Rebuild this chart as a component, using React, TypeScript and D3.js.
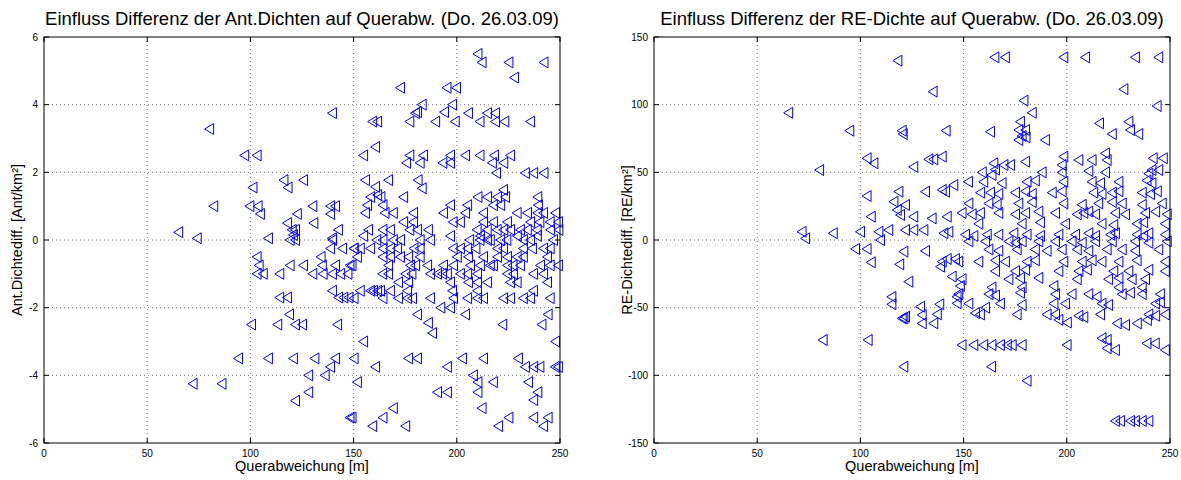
import React from 'react';
import * as d3 from 'd3';

const xTicks = [0, 50, 100, 150, 200, 250];
const antYTicks = [-6, -4, -2, 0, 2, 4, 6];
const reYTicks = [-150, -100, -50, 0, 50, 100, 150];

const antTitle = 'Einfluss Differenz der Ant.Dichten auf Querabw. (Do. 26.03.09)';
const reTitle = 'Einfluss Differenz der RE-Dichte auf Querabw. (Do. 26.03.09)';
const xLabel = 'Querabweichung [m]';
const antYLabel = 'Ant.Dichtediff. [Ant/km²]';
const reYLabel = 'RE-Dichtediff. [RE/km²]';

const antPoints: [number, number][] = [
  [65,0.23],[74,0.05],[80,3.28],[82,1.0],[72,-4.25],[86,-4.25],[94,-3.5],[97,2.5],[103,2.5],[101,1.55],[99.5,1.0],[103.5,1.0],[104.6,0.77],
  [103,-0.5],[104,-0.75],[103,-1.0],[106,-1.0],[100.3,-2.5],[108.5,-3.5],[108.5,0.05],[114,-1.0],[113,-2.5],[114,-1.7],[117.7,-1.7],
  [118.7,-2.2],[121.6,-2.5],[125,-2.5],[119,-0.75],[125.5,-0.75],[130,-1.0],[120.6,-3.5],[131,-3.5],[141,-3.5],[150,-3.5],[128,-4.0],
  [136,-4.0],[138.6,-3.75],[128,-4.5],[121.6,-4.75],[148,-5.25],[142,-2.5],[135,-1.0],[139.5,-1.0],[143.5,-1.0],[147,-1.0],[134,-0.5],
  [134.6,-0.75],[141,-0.75],[148,-0.75],[139.5,-1.5],[142.5,-1.7],[145,-1.7],[147.5,-1.7],[119,0],[121.6,0],[139.6,0],[138.6,-0.25],
  [144.4,-0.25],[150,-0.25],
  [139.5,3.75],[116,1.77],[125.5,1.77],[118,1.55],[130,1.0],[122.5,0.77],[138.6,1.0],[141,1.0],[138.6,0.77],[117.7,0.5],[120,0.3],
  [121.6,0.3],[120.6,0.15],[130.5,0.5],[142.4,0.3],[139.5,0.05],
  [210,5.5],[212,5.25],[225,5.25],[242,5.25],[227.7,4.8],[172.5,4.5],[195,4.5],[199.6,4.5],[183,4.0],[180.7,3.78],[179.7,3.75],
  [197.7,4.0],[193.8,3.78],[159,3.5],[161.4,3.5],[177,3.5],[189.5,3.5],[199,3.5],[205.4,3.75],[211,3.5],[214.6,3.75],[218.5,3.75],
  [218.5,3.5],[223,3.5],[235.5,3.5],
  [160.4,2.75],[154.6,2.5],[177,2.5],[183.6,2.5],[175.4,2.28],[182,2.28],[196.7,2.5],[193,2.28],[196.7,2.28],[204,2.5],[211,2.5],
  [218,2.5],[225.8,2.5],[217,2.28],[222.5,2.28],[219,1.98],[233,1.98],[237,1.98],[242,1.98],
  [155.5,1.77],[160.4,1.57],[161.4,1.33],[166.7,1.77],[181,1.77],[183,1.53],[174,1.27],[158,1.27],[163,1.27],[156.5,1.03],[164,1.03],
  [155.5,0.8],[165,0.8],[169,0.8],[178.8,0.8],[178.8,0.53],[174,0.53],[157,0.3],[164,0.3],[167.6,0.3],[177,0.3],[180.7,0.3],[186,0.3],
  [193.3,0.8],[196.7,1.03],[198,0.53],[205,1.03],[210,1.27],[214.6,1.27],[219.5,1.27],[222.4,1.48],[223.4,1.27],[204,0.8],[212.7,0.8],
  [217.5,1.03],[221,1.03],[201.5,0.53],[212.7,0.53],[217.5,0.53],[224.3,0.53],
  [239,1.27],[239.3,1.03],[229,0.8],[234,0.8],[239,0.8],[241.8,0.8],[247.6,0.8],[235.5,0.53],[240,0.53],[245,0.53],[249,0.53],
  [209.6,0.3],[214.5,0.3],[219.3,0.3],[222.5,0.3],[225.8,0.3],[230.6,0.3],[233.9,0.3],[238.7,0.3],[245.2,0.3],[249.2,0.3],
  [154.6,0.12],[196.7,0.12],[211.2,0.12],[229.1,0.12],[238.8,0.12],
  [161,0],[164,0],[169,0],[172.5,0],[182,0],[187,0],[206,0],[211,0],[214.6,0],[216,0],[221,0],[224,0],[232,0],[235.5,0],[246.6,0],
  [150,-0.25],[153,-0.25],[158,-0.25],[164,-0.25],[167.6,-0.25],[171,-0.25],[179,-0.25],[182,-0.25],[198,-0.25],[201.5,-0.25],
  [205,-0.25],[209,-0.25],[219.5,-0.25],[222.4,-0.25],[232,-0.25],[236.4,-0.25],[241.8,-0.25],[245,-0.25],
  [151.6,-0.5],[164,-0.5],[167.6,-0.5],[172.5,-0.5],[176.4,-0.5],[182,-0.5],[200,-0.5],[205.4,-0.5],[212.7,-0.5],[219.5,-0.5],
  [224.3,-0.5],[229,-0.5],[232,-0.5],[243.7,-0.5],
  [149,-0.75],[166.7,-0.75],[177.3,-0.75],[179.8,-0.75],[185.6,-0.75],[193.3,-0.75],[198.2,-0.75],[206.4,-0.75],[211.2,-0.75],
  [216,-0.75],[217.5,-0.75],[224.3,-0.75],[227,-0.75],[230.6,-0.75],[240.3,-0.75],[245,-0.75],[249,-0.75],
  [163.8,-1],[166.7,-1],[175,-1],[178,-1],[187,-1],[190.4,-1],[192.8,-1],[195.2,-1],[201.5,-1],[205,-1],[209.8,-1],[224.3,-1],
  [227.2,-1],[236.9,-1],[241.8,-1],
  [171.5,-1.25],[176.4,-1.25],[196.7,-1.25],[205.4,-1.25],[209.8,-1.25],[214.6,-1.25],[225.8,-1.25],[229,-1.25],[243.7,-1.25],
  [153,-1.5],[158,-1.5],[159.4,-1.5],[161.4,-1.5],[162.8,-1.5],[167.6,-1.5],[175.9,-1.5],[197.7,-1.5],[209.8,-1.5],[236.9,-1.5],
  [150,-1.72],[164,-1.72],[171.5,-1.72],[175.9,-1.72],[178.3,-1.72],[187,-1.72],[198.2,-1.72],[205,-1.72],[209.8,-1.72],
  [212.7,-1.72],[222.4,-1.72],[225.8,-1.72],[232,-1.72],[235.5,-1.72],[245,-1.72],
  [192,-2.0],[196.7,-2.0],[180.7,-2.2],[186,-2.45],[188,-2.75],[154.6,-3.0],[160.4,-3.75],[176.4,-3.5],[180.7,-3.5],[195.2,-3.75],
  [204,-2.2],[222,-2.5],[241,-2.5],[244,-2.2],[247.6,-3.0],[202.5,-3.5],[212.7,-3.5],[229.6,-3.5],[233,-3.75],[237,-3.75],
  [240,-3.75],[247.5,-3.75],[249,-3.75],[151.6,-4.2],[190.4,-4.5],[195.2,-4.5],[207.8,-4.0],[210,-4.2],[210,-4.5],[217.5,-4.2],
  [234.5,-4.2],[239,-4.5],[237,-4.73],[212,-4.97],[169,-4.97],[164,-5.25],[159,-5.5],[175,-5.5],[149,-5.25],[225,-5.25],
  [220,-5.5],[237,-5.25],[244,-5.25],[241.8,-5.5]
];

const rePoints: [number, number][] = [
  [65,94],[94.6,80.8],[117.9,132.5],[135,109.6],[120,80.8],[120.5,78.3],[141.3,80.8],[103,60.4],[106.3,56.7],[125.6,54],
  [132.9,59.6],[135.3,59.6],[139.4,61.6],[80,51.7],[103,32.5],[118.4,35.7],[131.3,35.7],[139.4,37],[141,35.7],[145,40.6],
  [116,28.3],[121.6,25.9],[117.6,22.2],[119.2,18.5],[105,17.2],[125.6,17.2],[134.5,16],[141.8,17.2],[71.5,6.1],[86.6,5],
  [99.8,6.1],[108.7,6.1],[113.5,7.4],[121.6,7.4],[125.6,7.4],[130.5,7.4],[140.2,5],[142.6,6.1],
  [73.2,1.2],[97.4,-6.6],[103,-6.6],[105,-16.5],[109.5,0],[120.8,-8.6],[118.8,-18],[131.3,-8.1],[139.4,-16],[141.8,-14],
  [138.6,-19.7],[145.8,-14],[123.2,-30.8],[144.2,-27],[115,-42],[115,-47.5],[146.6,-42],[146.6,-46.8],[121.6,-56.7],
  [120.8,-57.9],[120,-57.9],[128.9,-49.3],[129.7,-55.4],[129.7,-61.6],[137,-54.9],[135.3,-61.6],[138.2,-47.5],[81.7,-73.9],
  [103.5,-73.9],[120.8,-93.6],
  [164.9,135],[170,135],[198.3,135],[208.8,135],[233,135],[244.3,135],[227.4,111.4],[179,103],[183,94],[243.5,99],[162.8,80],
  [177.3,87.4],[176.5,81.3],[179.8,81.3],[178.1,76.8],[180,75.9],[176.5,73.9],[189.4,73.9],[215.6,86.2],[221.8,78.3],
  [229.8,87.4],[230.6,81.3],[234.6,78.3],
  [198.3,61.6],[197.5,55.4],[205.6,59.1],[212,59.1],[218.5,64],[219.3,59.1],[179.8,57.9],[241.6,60.4],[246.5,60.4],[241,51.7],
  [244.3,51.7],[164.4,56.7],[169.3,55.4],[172.5,55.4],
  [158.8,50],[163.5,48],[165.2,52],[187.8,50],[197.5,50],[210.4,51],[218.5,50],[239.5,49],
  [152.1,43],[159.5,43],[168.4,42],[180.5,43],[184.5,44],[198.3,43],[212,43],[216.1,42],[225,43],[238.6,44],[241,42],
  [158,35],[162.8,35],[166.8,34],[174.9,35],[179.8,36],[183,34],[192.7,35],[197.5,36],[212.8,35],[216.8,34],[221.8,35],
  [225,36],[236.3,35],[240.3,34],[243.6,36],
  [152.3,27],[162,27],[166,26],[176.5,27],[183,28],[198.3,27],[207.2,26],[215.2,27],[221.8,28],[226.6,27],[236.3,26],[246,27],
  [149,20],[153.9,19],[157.9,20],[166.8,20],[174.9,19],[179.8,20],[186.2,21],[194.3,20],[204.8,19],[208,20],[210.4,21],
  [213.7,19],[223.3,20],[228.2,19],[237.9,20],[242.8,21],[248.4,19],
  [157.1,12],[178.1,12],[187,13],[199.1,12],[216.8,12],[222.5,11],[233.8,12],[237,13],[247.5,12],
  [150.7,4],[154.7,3],[161.2,4],[166.8,4],[174.1,5],[180.5,4],[187,3],[195.9,4],[204,4],[210.4,5],[213.7,3],[221,4],[223.3,5],
  [233.8,4],[237,3],[239.5,5],[247.5,4],
  [152.3,-1],[160.4,-1],[171.7,-1],[174.9,-2],[178.1,-1],[186.2,-1],[194.3,-1],[202.3,-1],[207.2,-2],[213.7,-1],[221.8,-1],
  [233,-1],[239.5,-2],[248.4,-1],
  [162,-7],[166.8,-8],[175.7,-7],[184.5,-7],[190.2,-8],[197.5,-7],[204.8,-7],[210.4,-8],[219.3,-7],[226.6,-7],[233,-8],[244.3,-7],
  [147.4,-16],[157.1,-16],[165.2,-15],[170,-16],[180.5,-16],[184.5,-15],[198.3,-16],[207.2,-16],[212,-15],[216.8,-16],[225,-16],
  [233.8,-15],[247.5,-16],
  [165.2,-23],[174.9,-23],[179.8,-22],[195.9,-23],[205.6,-23],[209.7,-22],[222.5,-23],[229.8,-23],[239.5,-22],[247.5,-23],
  [149,-29],[171.7,-29],[177.3,-28],[186.2,-28],[204.8,-29],[220,-29],[225,-28],[231.4,-29],[237.9,-29],
  [148.2,-34],[163.5,-35],[178.1,-35],[193.5,-34],[225,-35],[236.3,-35],
  [147.4,-40],[162,-40],[165.2,-41],[177.3,-39],[194.3,-40],[202.3,-40],[210.4,-40],[214.4,-42],[226.6,-40],[230.6,-39],
  [236.3,-40],[245.1,-40],
  [152.3,-47],[160.4,-50],[167.6,-47],[178.1,-48],[193.5,-47],[199.1,-47],[216.8,-47],[220,-48],[242.8,-47],[245.1,-46],
  [155.5,-54],[157.9,-55],[175.7,-55],[190.2,-55],[194.3,-55],[205.6,-56],[208,-57],[216.1,-55],[239.5,-55],[242.8,-56],[247.5,-55],
  [195.9,-59],[200,-61],[224.2,-61.6],[228.2,-62.8],[233.9,-61.6],[238.8,-59.1],
  [149,-77.6],[154.7,-77.6],[159.5,-77.6],[163.5,-77.6],[167.6,-77.6],[170.9,-77.6],[173.3,-77.6],[178.1,-77.6],[199.9,-77.6],
  [216.8,-72.6],[219.3,-73.9],[219.3,-80],[223.3,-81.3],[238.6,-76.4],[242.6,-76.4],[247.5,-81.3],
  [180.5,-104],[163.3,-93.6],[223.3,-133.7],[225.8,-133.7],[230.6,-133.7],[233,-133.7],[236.3,-133.7],[239.5,-133.7]
];

const FONT = '"Liberation Sans", Arial, Helvetica, sans-serif';
const PLOT_W = 516;
const TOP = 37;
const BOTTOM = 443;
const TICK = 5;
const MARKER = 'M-4.5,0L4.5,-5.5L4.5,5.5Z';

type PanelProps = {
  left: number;
  points: [number, number][];
  yDomain: [number, number];
  yTicks: number[];
  title: string;
  yLabel: string;
};

function Panel({ left, points, yDomain, yTicks, title, yLabel }: PanelProps) {
  const x = d3.scaleLinear().domain([0, 250]).range([left, left + PLOT_W]);
  const y = d3.scaleLinear().domain(yDomain).range([BOTTOM, TOP]);
  const right = left + PLOT_W;
  const cx = left + PLOT_W / 2;
  return (
    <g>
      {xTicks.slice(1, -1).map((t) => (
        <line key={'gx' + t} x1={x(t)} x2={x(t)} y1={TOP} y2={BOTTOM} stroke="#777" strokeWidth={1} strokeDasharray="1,3" />
      ))}
      {yTicks.slice(1, -1).map((t) => (
        <line key={'gy' + t} x1={left} x2={right} y1={y(t)} y2={y(t)} stroke="#777" strokeWidth={1} strokeDasharray="1,3" />
      ))}
      {points.map((p, i) => (
        <path key={i} d={MARKER} transform={`translate(${x(p[0])},${y(p[1])})`} fill="none" stroke="#0000ff" strokeWidth={1} />
      ))}
      <rect x={left} y={TOP} width={PLOT_W} height={BOTTOM - TOP} fill="none" stroke="#000" strokeWidth={1} />
      {xTicks.map((t) => (
        <g key={'tx' + t}>
          <line x1={x(t)} x2={x(t)} y1={BOTTOM} y2={BOTTOM - TICK} stroke="#000" />
          <line x1={x(t)} x2={x(t)} y1={TOP} y2={TOP + TICK} stroke="#000" />
          <text x={x(t)} y={BOTTOM + 14} textAnchor="middle" fontSize={10} fontFamily={FONT}>{t}</text>
        </g>
      ))}
      {yTicks.map((t) => (
        <g key={'ty' + t}>
          <line x1={left} x2={left + TICK} y1={y(t)} y2={y(t)} stroke="#000" />
          <line x1={right} x2={right - TICK} y1={y(t)} y2={y(t)} stroke="#000" />
          <text x={left - 6} y={y(t) + 3.5} textAnchor="end" fontSize={10} fontFamily={FONT}>{t}</text>
        </g>
      ))}
      <text x={cx} y={25} textAnchor="middle" fontSize={18.5} fontFamily={FONT}>{title}</text>
      <text x={cx} y={471} textAnchor="middle" fontSize={14.5} fontFamily={FONT}>{xLabel}</text>
      <text transform={`translate(${left - 22},${(TOP + BOTTOM) / 2}) rotate(-90)`} textAnchor="middle" fontSize={14.5} fontFamily={FONT}>{yLabel}</text>
    </g>
  );
}

export default function App() {
  return (
    <svg width={1181} height={480} style={{ position: 'absolute', left: 0, top: 0, background: '#fff' }}>
      <rect x={0} y={0} width={1181} height={480} fill="#fff" />
      <Panel left={44} points={antPoints} yDomain={[-6, 6]} yTicks={antYTicks} title={antTitle} yLabel={antYLabel} />
      <Panel left={654} points={rePoints} yDomain={[-150, 150]} yTicks={reYTicks} title={reTitle} yLabel={reYLabel} />
    </svg>
  );
}
